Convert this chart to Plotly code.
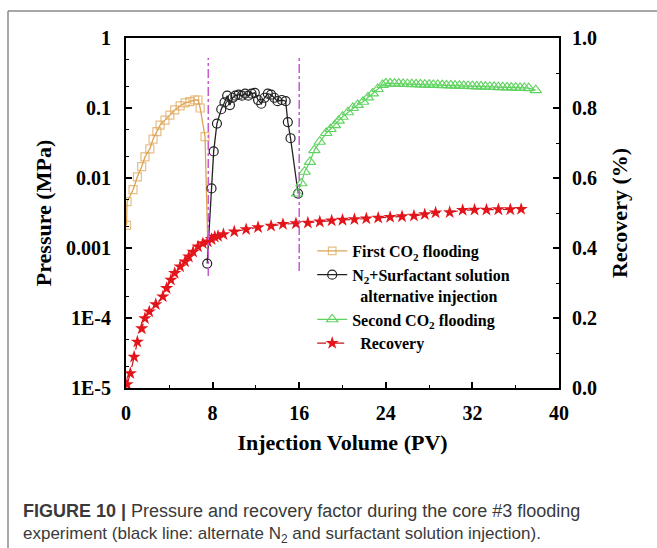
import plotly.graph_objects as go

# ---------------- data ----------------
co2_first_x = [0.05, 0.1, 0.65, 1.05, 1.45, 1.75, 2.2, 2.5, 2.85, 3.15, 3.6, 4.05, 4.5, 5.0, 5.45, 5.9, 6.35, 6.65, 6.85, 7.3, 7.55]
co2_first_p = [0.0021, 0.0046, 0.0068, 0.0104, 0.0145, 0.020, 0.026, 0.036, 0.046, 0.057, 0.067, 0.079, 0.094, 0.107, 0.118, 0.123, 0.13, 0.13, 0.10, 0.039, 0.0012]

n2_x = [7.5, 7.9, 8.1, 8.4, 8.8, 9.1, 9.35, 9.6, 9.85, 10.1, 10.4, 10.7, 11.0, 11.3, 11.6, 11.9,
        12.2, 12.5, 12.8, 13.1, 13.4, 13.7, 14.0, 14.4, 14.75, 14.95, 15.2, 15.9]
n2_p = [0.0006, 0.0071, 0.024, 0.060, 0.096, 0.12, 0.15, 0.11, 0.14, 0.15, 0.155, 0.15, 0.16, 0.15, 0.16, 0.165,
        0.13, 0.115, 0.14, 0.16, 0.155, 0.14, 0.125, 0.13, 0.125, 0.063, 0.037, 0.006]

co2_second_x = [15.8, 16.2, 16.5, 17.0, 17.4, 17.9, 18.5, 18.9, 19.3, 19.65, 20.0, 20.5, 20.95, 21.4, 21.9, 22.35, 22.8,
                23.25, 23.7, 24.0, 24.4, 24.8, 25.2, 25.6, 26.0, 26.4, 26.8, 27.2, 27.6, 28.0, 28.4, 28.8, 29.2,
                29.6, 30.0, 30.4, 30.8, 31.2, 31.6, 32.0, 32.4, 32.8, 33.2, 33.6, 34.0, 34.4, 34.8, 35.2, 35.6,
                36.0, 36.4, 36.8, 37.2, 37.85]
co2_second_p = [0.006, 0.0084, 0.0123, 0.017, 0.025, 0.033, 0.044, 0.050, 0.057, 0.066, 0.075, 0.087, 0.10, 0.111, 0.123,
                0.142, 0.162, 0.187, 0.213, 0.225, 0.224, 0.223, 0.222, 0.221, 0.220, 0.219, 0.218, 0.217, 0.216,
                0.215, 0.214, 0.213, 0.212, 0.211, 0.210, 0.209, 0.208, 0.207, 0.206, 0.205, 0.204, 0.203, 0.202,
                0.201, 0.200, 0.199, 0.198, 0.197, 0.196, 0.195, 0.194, 0.193, 0.192, 0.180]

rec_x = [0.1, 0.4, 0.75, 1.05, 1.45, 1.75, 2.15, 2.75, 3.4, 3.75, 4.15, 4.5, 5.0, 5.45, 5.8, 6.2, 6.65, 7.1, 7.55,
         7.9, 8.2, 8.5, 9.0, 10.0, 11.1, 12.2, 13.4, 14.5, 15.7, 16.8, 17.9, 19.0, 20.0, 21.1, 22.2, 23.3, 24.4,
         25.5, 26.6, 27.6, 28.6, 29.9, 31.1, 32.2, 33.3, 34.4, 35.5, 36.5]
rec_v = [0.01, 0.042, 0.089, 0.132, 0.17, 0.199, 0.218, 0.239, 0.261, 0.285, 0.309, 0.328, 0.347, 0.361, 0.375,
         0.389, 0.404, 0.413, 0.418, 0.425, 0.432, 0.434, 0.439, 0.447, 0.453, 0.459, 0.463, 0.468, 0.47, 0.472,
         0.475, 0.478, 0.48, 0.482, 0.484, 0.486, 0.488, 0.49, 0.492, 0.496, 0.501, 0.502, 0.508, 0.509, 0.509,
         0.51, 0.51, 0.511]

stage_x = [7.6, 16.0]
stage_top = [0.943, 0.943]
stage_bottom = [0.32, 0.334]

x_ticks = [0, 8, 16, 24, 32, 40]
p_ticks = [1e-5, 1e-4, 1e-3, 1e-2, 1e-1, 1]
p_labels = ["1E-5", "1E-4", "0.001", "0.01", "0.1", "1"]
r_ticks = [0.0, 0.2, 0.4, 0.6, 0.8, 1.0]
r_labels = ["0.0", "0.2", "0.4", "0.6", "0.8", "1.0"]

# ---------------- figure ----------------
SERIF = "Liberation Serif"
ORANGE = "#DDA352"
GREEN = "#5FD35F"
RED = "#E3151B"

fig = go.Figure()

fig.add_trace(go.Scatter(
    x=co2_first_x, y=co2_first_p, mode="lines+markers", name="First CO<sub>2</sub> flooding",
    line=dict(color=ORANGE, width=1.3),
    marker=dict(symbol="square-open", size=[8] * (len(co2_first_x) - 1) + [0], color=ORANGE, line=dict(width=1.2)),
    yaxis="y"))

fig.add_trace(go.Scatter(
    x=n2_x, y=n2_p, mode="lines+markers",
    name="N<sub>2</sub>+Surfactant solution<br>  alternative injection",
    line=dict(color="#222222", width=1.3),
    marker=dict(symbol="circle-open", size=9, color="#222222", line=dict(width=1.2)),
    yaxis="y"))

fig.add_trace(go.Scatter(
    x=co2_second_x, y=co2_second_p, mode="lines+markers", name="Second CO<sub>2</sub> flooding",
    line=dict(color=GREEN, width=1.2),
    marker=dict(symbol="triangle-up-open", size=10, color=GREEN, line=dict(width=1.1)),
    yaxis="y"))

fig.add_trace(go.Scatter(
    x=rec_x, y=rec_v, mode="lines+markers", name="  Recovery",
    line=dict(color="#C4161C", width=1.2, dash="dash"),
    marker=dict(symbol="star", size=10, color=RED, line=dict(width=0)),
    yaxis="y2"))

for i, sx in enumerate(stage_x):
    fig.add_shape(type="line", xref="x", yref="y2", x0=sx, x1=sx, y0=stage_bottom[i], y1=stage_top[i],
                  line=dict(color="#C85AD0", width=1.5, dash="dashdot"))

# figure card frame
fig.add_shape(type="line", xref="paper", yref="paper", x0=-0.2725, x1=1.3, y0=1.0771, y1=1.0771,
              line=dict(color="#8a8a8a", width=1.5))
fig.add_shape(type="line", xref="paper", yref="paper", x0=-0.2725, x1=-0.2725, y0=1.0771, y1=-0.48,
              line=dict(color="#8a8a8a", width=1.5))

axis_common = dict(showline=True, linecolor="black", linewidth=2, ticks="inside", tickcolor="black",
                   tickwidth=1.5, showgrid=False, zeroline=False,
                   tickfont=dict(family=SERIF, size=20, color="black", weight="bold"))
title_font = dict(family=SERIF, size=22, color="black", weight="bold")

fig.update_layout(
    width=657, height=548,
    margin=dict(l=126, r=98, t=38, b=160),
    paper_bgcolor="white", plot_bgcolor="white",
    xaxis=dict(range=[0, 40], tickvals=x_ticks, ticklen=6, mirror=True, ticklabelstandoff=6,
               minor=dict(ticks="inside", ticklen=3, dtick=4, tickcolor="black", tickwidth=1.2),
               title=dict(text="Injection Volume (PV)", standoff=12, font=title_font),
               **axis_common),
    yaxis=dict(type="log", range=[-5, 0], tickmode="array", tickvals=p_ticks, ticktext=p_labels,
               ticklen=6, ticklabelstandoff=9,
               minor=dict(ticks="inside", ticklen=3, tickcolor="black", tickwidth=1),
               title=dict(text="Pressure (MPa)", standoff=8, font=title_font),
               **axis_common),
    yaxis2=dict(overlaying="y", side="right", range=[0, 1], tickmode="array", tickvals=r_ticks,
                ticktext=r_labels, ticklen=6, ticklabelstandoff=7,
                minor=dict(ticks="inside", ticklen=3, dtick=0.1, tickcolor="black", tickwidth=1.2),
                title=dict(text="Recovery (%)", standoff=16, font=title_font),
                **axis_common),
    legend=dict(x=0.43, y=0.44, xanchor="left", yanchor="top", bgcolor="rgba(0,0,0,0)",
                font=dict(family=SERIF, size=16, color="black", weight="bold"),
                itemwidth=30, tracegroupgap=0, valign="top"),
    showlegend=True,
)

fig.add_annotation(xref="paper", yref="paper", x=-0.243, y=-0.351, xanchor="left", yanchor="middle",
                   showarrow=False, align="left",
                   text="<b>FIGURE 10 |</b> Pressure and recovery factor during the core #3 flooding",
                   font=dict(family="Liberation Sans", size=18, color="#3a3a3a"))
fig.add_annotation(xref="paper", yref="paper", x=-0.243, y=-0.42, xanchor="left", yanchor="middle",
                   showarrow=False, align="left",
                   text="experiment (black line: alternate N<sub>2</sub> and surfactant solution injection).",
                   font=dict(family="Liberation Sans", size=17, color="#3a3a3a"))

fig.write_html("out.html")
